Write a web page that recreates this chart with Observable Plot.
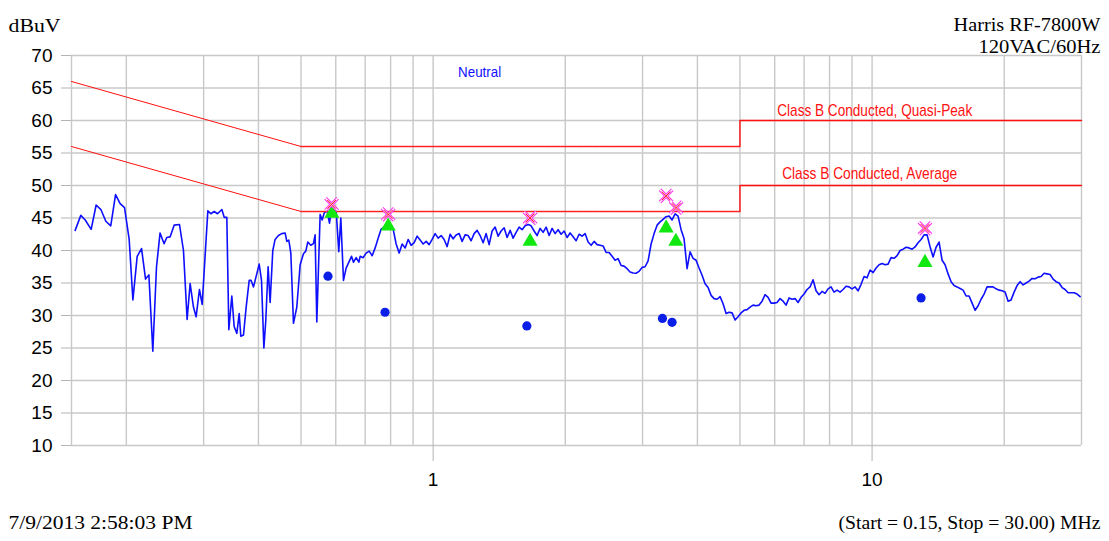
<!DOCTYPE html>
<html>
<head>
<meta charset="utf-8">
<script src="https://cdn.jsdelivr.net/npm/d3@7"></script>
<script src="https://cdn.jsdelivr.net/npm/@observablehq/plot@0.6"></script>
<style>
  html, body { margin: 0; padding: 0; background: #fff; }
  #chart { width: 1109px; height: 541px; }
</style>
</head>
<body>
<div id="chart"></div>
<script>
// Axis ticks and grid
const yTicks = [10, 15, 20, 25, 30, 35, 40, 45, 50, 55, 60, 65, 70];
const xTickLabels = [1, 10];
const gridFreqs = [0.15, 0.2, 0.3, 0.4, 0.5, 0.6, 0.7, 0.8, 0.9, 1, 2, 3, 4, 5, 6, 7, 8, 9, 10, 20, 30];

// FCC Class B conducted limits, [MHz, dBuV]
const qpLimit = [[0.15, 66], [0.5, 56], [5, 56], [5, 60], [30, 60]];
const avgLimit = [[0.15, 56], [0.5, 46], [5, 46], [5, 50], [30, 50]];

// Measured emissions at the flagged frequencies, [MHz, dBuV]
const peakMarks = [[0.587, 47.1], [0.790, 45.55], [1.663, 45.0], [3.395, 48.4], [3.577, 46.6], [13.2, 43.4]];
const qpMarks = [[0.588, 45.7], [0.790, 43.75], [1.663, 41.4], [3.395, 43.45], [3.572, 41.4], [13.2, 38.15]];
const avgMarks = [[0.576, 36.05], [0.777, 30.5], [1.635, 28.4], [3.33, 29.55], [3.502, 28.95], [12.93, 32.7]];

// Neutral line scan, low band (individual sweep points), [MHz, dBuV]
const neutralLow = [
  [0.1529,43.1],[0.1575,45.4],[0.1612,44.7],[0.1663,43.25],[0.1707,47.0],[0.1750,46.3],[0.1796,44.5],[0.1843,43.8],
  [0.1890,48.6],[0.1936,47.2],[0.1981,46.6],[0.2030,41.7],[0.2070,32.4],[0.2117,39.1],[0.2166,40.3],[0.2212,35.6],
  [0.2251,36.25],[0.2298,24.5],[0.2343,37.5],[0.2387,42.7],[0.2438,41.05],[0.2473,42.0],[0.2517,42.1],[0.2570,43.9],
  [0.2643,44.0],[0.2699,40.0],[0.2751,29.4],[0.2795,34.9],[0.2844,31.3],[0.2884,29.8],[0.2935,34.0],[0.2977,31.7],
  [0.3067,46.1],[0.3116,45.65],[0.3171,46.0],[0.3227,45.65],[0.3301,46.3],[0.3342,45.1],[0.3388,45.1],[0.3424,27.8],
  [0.3478,33.0],[0.3521,28.3],[0.3571,27.25],[0.3615,30.3],[0.3646,26.8],[0.3698,27.0],[0.3750,31.3],[0.3810,35.4],
  [0.3849,35.4],[0.3897,34.4],[0.3966,36.45],[0.4015,37.9],[0.4064,35.4],[0.4115,25.0],[0.4157,29.3],[0.4208,37.5],
  [0.4252,32.0],[0.4312,40.0],[0.4365,41.7],[0.4442,42.3],[0.4520,42.6],[0.4600,42.7],[0.4641,41.4],[0.4690,41.6],
  [0.4740,39.6],[0.4806,28.8],[0.4891,31.3],[0.4977,37.8],[0.5065,39.5],[0.5127,39.9],[0.5181,41.3],[0.5263,40.8],
  [0.5337,41.05],[0.5384,42.4],[0.5432,29.0],[0.5528,45.55],[0.5587,44.7],[0.5645,45.75],[0.5726,46.2],[0.5806,44.2],
  [0.5867,46.2],[0.5929,46.4],[0.6012,46.2],[0.6095,39.8],[0.6161,45.0],[0.6248,35.4],[0.6335,37.3],[0.6427,38.2],
  [0.6517,39.1],[0.6585,38.2],[0.6678,38.9],[0.6772,38.2]
];

// Log-spaced sweep bands: [start MHz, stop MHz]
const sweepBands = [[0.6819, 2.401], [2.439, 9.003], [9.147, 29.78]];

// Levels (dBuV) for each sweep band, evenly spaced in log frequency
const neutralBand1 = [
  39.1,38.9,39.6,39.9,39.2,40.4,41.9,43.3,43.6,43.7,
  43.5,43.3,41.0,39.6,41.0,40.4,41.7,40.8,41.2,42.2,
  41.6,41.0,41.4,40.9,41.7,42.6,41.9,42.3,41.7,40.6,
  42.5,41.8,42.4,42.6,41.4,42.4,42.3,41.5,42.6,43.1,
  42.3,41.2,42.6,40.9,43.0,43.6,42.2,43.0,43.5,42.0,
  43.1,41.9,42.8,43.6,43.2,43.8,44.0,43.8,43.0,42.3,
  43.4,42.8,43.6,42.3,43.4,42.6,43.2,42.5,43.0,42.0,
  42.7,42.1,41.5,42.5,42.2,42.6,41.3,40.8,41.4,40.9,
  40.8
];
const neutralBand2 = [
  40.7,39.7,39.7,39.1,38.5,38.75,37.7,37.6,37.2,36.7,
  36.55,36.5,36.8,37.4,37.5,38.4,41.0,42.6,43.9,44.4,
  44.8,45.2,45.3,44.7,45.65,45.3,43.2,41.8,37.2,39.8,
  38.8,38.5,37.3,36.2,34.9,34.3,33.1,32.6,32.5,32.9,
  31.8,30.3,30.5,30.4,29.3,29.8,30.4,30.8,30.9,31.3,
  31.6,31.5,31.6,32.2,33.2,32.8,31.9,31.9,32.0,32.6,
  32.2,31.6,32.7,32.5,32.6,32.0,32.8,33.3,34.0,34.4,
  35.5,33.8,33.2,33.7,33.4,34.1,34.4,33.6,33.9,33.6,
  34.0,34.5,34.4,34.1
];
const neutralBand3 = [
  34.4,33.8,34.8,36.0,35.8,37.0,36.6,37.3,37.8,38.0,
  37.8,37.9,38.9,38.8,39.2,40.0,40.2,40.5,40.4,40.2,
  40.55,41.2,41.7,42.4,42.4,40.55,39.0,40.5,41.3,38.5,
  37.8,36.4,35.2,34.6,34.4,34.15,33.9,33.0,33.0,31.9,
  30.8,31.5,32.5,33.3,34.4,34.4,34.4,34.1,33.9,33.8,
  33.6,32.2,32.4,33.6,34.6,35.2,34.7,35.0,35.3,35.7,
  35.65,35.9,36.0,36.5,36.4,36.3,35.6,35.2,35.0,34.3,
  34.0,33.5,33.5,33.5,33.3,32.9
];

// Place the band levels on their log-spaced sweep frequencies
function sweep([f0, f1], levels) {
  const n = levels.length;
  return levels.map((v, i) => ({f: f0 * Math.pow(f1 / f0, i / (n - 1)), v}));
}
const neutral = [
  ...neutralLow.map(([f, v]) => ({f, v})),
  ...sweep(sweepBands[0], neutralBand1),
  ...sweep(sweepBands[1], neutralBand2),
  ...sweep(sweepBands[2], neutralBand3)
];

const serif = "'Liberation Serif', 'Times New Roman', serif";
const sans = "'Liberation Sans', Arial, sans-serif";
const red = "#ff1010";
const gridColor = "#c8c8c8";
const fx = d => d[0], fy = d => d[1];

// Limit drawn in three pieces: slope, dotted plateau, upper step
function limitMarks(lim) {
  return [
    Plot.line(lim.slice(0, 2), {x: fx, y: fy, stroke: red, strokeWidth: 1}),
    Plot.line(lim.slice(1, 3), {x: fx, y: fy, stroke: "#ff2020", strokeWidth: 1.3, strokeDasharray: "1.5,0.8"}),
    Plot.line(lim.slice(2), {x: fx, y: fy, stroke: red, strokeWidth: 1.4})
  ];
}

const chart = Plot.plot({
  width: 1109,
  height: 541,
  marginLeft: 71,
  marginRight: 28,
  marginTop: 55,
  marginBottom: 96,
  style: {fontFamily: sans, fontSize: "19px", background: "#fff", color: "#000", overflow: "visible"},
  x: {type: "log", domain: [0.15, 30], label: null},
  y: {domain: [10, 70], label: null},
  marks: [
    Plot.ruleX(gridFreqs, {stroke: gridColor, strokeWidth: 1.4}),
    Plot.ruleY(yTicks, {stroke: gridColor, strokeWidth: 1.4}),
    Plot.axisY({ticks: yTicks, tickSize: 10, tickPadding: 9, stroke: "#b4b4b4", fill: "#000", fontSize: 19, label: null}),
    Plot.axisX({ticks: xTickLabels, tickSize: 16, tickPadding: 11, tickFormat: d => String(d), stroke: "#b4b4b4", fill: "#000", fontSize: 19, label: null}),

    Plot.line(neutral, {x: "f", y: "v", stroke: "#0f0fff", strokeWidth: 1.6}),

    ...limitMarks(qpLimit),
    ...limitMarks(avgLimit),

    Plot.dot(avgMarks, {x: fx, y: fy, r: 4.6, fill: "#0a1ee8", stroke: "none"}),
    Plot.dot(qpMarks, {x: fx, y: fy, symbol: "triangle", r: 5.6, fill: "#10e810", stroke: "none"}),
    // Peak markers: hollow magenta cross with a red centre cross
    Plot.dot(peakMarks, {x: fx, y: fy, symbol: "times", r: 5.6, stroke: "#ff33ee", strokeWidth: 3.6}),
    Plot.dot(peakMarks, {x: fx, y: fy, symbol: "times", r: 5.6, stroke: "#ffffff", strokeWidth: 1.4}),
    Plot.dot(peakMarks, {x: fx, y: fy, symbol: "times", r: 4, stroke: "#ff1a1a", strokeWidth: 1}),

    // In-plot annotations
    Plot.text(["Neutral"], {x: () => 1.14, y: () => 67.4, textAnchor: "start", fill: "#1010ff", fontSize: 15, fontFamily: sans}),
    Plot.text(["Class B Conducted, Quasi-Peak"], {x: () => 6.08, y: () => 61.6, textAnchor: "start", fill: red, fontSize: 17, fontFamily: sans}),
    Plot.text(["Class B Conducted, Average"], {x: () => 6.24, y: () => 51.9, textAnchor: "start", fill: red, fontSize: 17, fontFamily: sans}),

    // Header and footer
    Plot.text(["dBuV"], {frameAnchor: "top-left", dx: -63, dy: -37, textAnchor: "start", fontFamily: serif, fontSize: 19}),
    Plot.text(["Harris RF-7800W"], {frameAnchor: "top-right", dx: 19, dy: -38, textAnchor: "end", fontFamily: serif, fontSize: 19}),
    Plot.text(["120VAC/60Hz"], {frameAnchor: "top-right", dx: 19, dy: -16, textAnchor: "end", fontFamily: serif, fontSize: 19}),
    Plot.text(["7/9/2013 2:58:03 PM"], {frameAnchor: "bottom-left", dx: -63, dy: 83, textAnchor: "start", fontFamily: serif, fontSize: 19}),
    Plot.text(["(Start = 0.15, Stop = 30.00) MHz"], {frameAnchor: "bottom-right", dx: 19, dy: 83, textAnchor: "end", fontFamily: serif, fontSize: 19})
  ]
});

// The report's fonts are set narrow or wide; fit each annotation to its set width
const setWidths = new Map([
  ["Neutral", 43],
  ["Class B Conducted, Quasi-Peak", 195],
  ["Class B Conducted, Average", 175],
  ["dBuV", 52],
  ["Harris RF-7800W", 147],
  ["120VAC/60Hz", 122],
  ["7/9/2013 2:58:03 PM", 184],
  ["(Start = 0.15, Stop = 30.00) MHz", 262]
]);
d3.select(chart).selectAll("text").each(function () {
  const w = setWidths.get(this.textContent);
  if (w) {
    this.setAttribute("textLength", w);
    this.setAttribute("lengthAdjust", "spacingAndGlyphs");
  }
});

document.getElementById("chart").appendChild(chart);
</script>
</body>
</html>
